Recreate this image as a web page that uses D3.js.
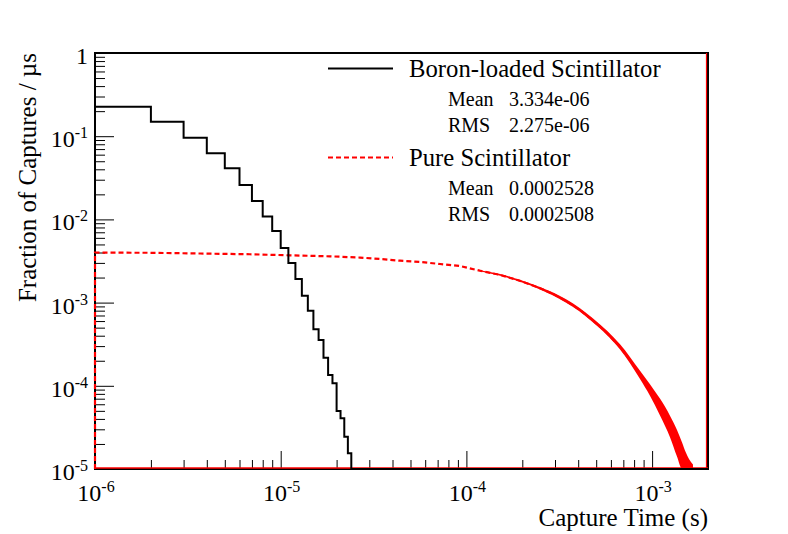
<!DOCTYPE html>
<html>
<head>
<meta charset="utf-8">
<script src="https://cdn.jsdelivr.net/npm/d3@7"></script>
<style>
  body { margin: 0; background: #fff; }
  svg { font-family: "Liberation Serif", "Times New Roman", serif; }
</style>
</head>
<body>
<div id="chart"></div>
<script>
// axis ticks
const xMajorTicks = [1e-6, 1e-5, 1e-4, 1e-3];
const xTickExp = ["-6", "-5", "-4", "-3"];
const yMajorTicks = [1e-5, 1e-4, 1e-3, 1e-2, 1e-1, 1];
const yTickExp = ["-5", "-4", "-3", "-2", "-1", ""];

// boron-loaded scintillator: 1 us bins, left edges in us
const boronEdgesUs = [1, 2, 3, 4, 5, 6, 7, 8, 9, 10, 11, 12, 13, 14, 15, 16, 17, 18, 19, 20, 21, 22, 23, 24];
const boronValues = [0.226, 0.149, 0.0959, 0.0623, 0.0411, 0.0259, 0.0166, 0.0108, 0.00726, 0.00453,
  0.00299, 0.00192, 0.00121, 0.0008, 0.000478, 0.000355, 0.000218, 0.000135, 0.000107, 4.98e-5,
  4.07e-5, 2.44e-5, 1.55e-5];

// pure scintillator; spread = half width of noise band (decades)
const pureTime = [1.0e-6, 1.36e-6, 1.98e-6, 3.68e-6, 6.83e-6, 1.12e-5, 1.84e-5, 2.67e-5, 3.43e-5, 4.39e-5,
  5.63e-5, 7.21e-5, 9.24e-5, 1.18e-4, 1.52e-4, 1.94e-4, 2.49e-4, 2.93e-4, 3.48e-4, 4.09e-4,
  4.81e-4, 5.72e-4, 6.72e-4, 7.60e-4, 8.61e-4, 9.74e-4, 1.10e-3, 1.25e-3, 1.36e-3, 1.45e-3,
  1.52e-3, 1.58e-3, 1.66e-3];
const pureValues = [4.00e-3, 3.98e-3, 3.97e-3, 3.89e-3, 3.81e-3, 3.70e-3, 3.60e-3, 3.48e-3, 3.34e-3, 3.19e-3,
  3.08e-3, 2.91e-3, 2.75e-3, 2.42e-3, 2.15e-3, 1.83e-3, 1.49e-3, 1.27e-3, 1.03e-3, 8.15e-4,
  6.09e-4, 4.31e-4, 2.93e-4, 2.04e-4, 1.35e-4, 8.90e-5, 5.61e-5, 3.22e-5, 2.05e-5, 1.41e-5,
  1.09e-5, 1.0e-5, 9e-6];
const pureSpread = [0, 0, 0, 0, 0, 0, 0, 0, 0, 0,
  0, 0, 0, 0.006, 0.01, 0.012, 0.015, 0.018, 0.02, 0.022,
  0.025, 0.028, 0.032, 0.038, 0.05, 0.07, 0.1, 0.13, 0.16, 0.17,
  0.16, 0.12, 0.1];

// legend
const legendNames = ["Boron-loaded Scintillator", "Pure Scintillator"];
const legendMean = ["3.334e-06", "0.0002528"];
const legendRms = ["2.275e-06", "0.0002508"];

const width = 788, height = 534;
const svg = d3.select("#chart").append("svg")
  .attr("width", width).attr("height", height);

const x = d3.scaleLog().domain([1e-6, 2e-3]).range([95, 708]);
const y = d3.scaleLog().domain([1e-5, 1]).range([469, 53]).clamp(true);
const [x0, x1] = x.range();
const [y0, y1] = y.range();
const floor = y.domain()[0];
const isDecade = (v) => Math.abs(Math.log10(v) - Math.round(Math.log10(v))) < 1e-6;

// ticks
const yMinor = y.ticks().filter((v) => !isDecade(v));
const xMinor = x.ticks().filter((v) => !isDecade(v) && v < x.domain()[1]);

function tickAxis(axis, transform) {
  const g = svg.append("g").attr("transform", transform).call(axis);
  g.select(".domain").remove();
  g.selectAll("line").attr("stroke", "#000").attr("stroke-width", 1);
  return g;
}
tickAxis(d3.axisRight(y).tickValues(yMinor).tickSize(10).tickFormat(""), `translate(${x0},0)`);
tickAxis(d3.axisRight(y).tickValues(yMajorTicks).tickSize(19).tickFormat(""), `translate(${x0},0)`);
tickAxis(d3.axisTop(x).tickValues(xMinor).tickSize(9).tickFormat(""), `translate(0,${y0})`);
tickAxis(d3.axisTop(x).tickValues(xMajorTicks).tickSize(18).tickFormat(""), `translate(0,${y0})`);

// tick labels
yMajorTicks.forEach((v, i) => {
  const t = svg.append("text")
    .attr("x", 88).attr("y", y(v) + 11)
    .attr("text-anchor", "end").attr("font-size", 24);
  if (yTickExp[i] === "") {
    t.text("1");
  } else {
    t.append("tspan").text("10");
    t.append("tspan").attr("font-size", 16).attr("dy", -9).text(yTickExp[i]);
  }
});
xMajorTicks.forEach((v, i) => {
  const t = svg.append("text")
    .attr("x", x(v) + 1).attr("y", 501)
    .attr("text-anchor", "middle").attr("font-size", 24);
  t.append("tspan").text("10");
  t.append("tspan").attr("font-size", 16).attr("dy", -9).text(xTickExp[i]);
});

// axis titles
svg.append("text")
  .attr("x", x1).attr("y", 526)
  .attr("text-anchor", "end").attr("font-size", 25)
  .text("Capture Time (s)");
svg.append("text")
  .attr("transform", `translate(36,${y1}) rotate(-90)`)
  .attr("text-anchor", "end").attr("font-size", 25)
  .text("Fraction of Captures / \u00b5s");

// frame
svg.append("rect")
  .attr("x", x0).attr("y", y1)
  .attr("width", x1 - x0).attr("height", y0 - y1)
  .attr("fill", "none").attr("stroke", "#000").attr("stroke-width", 2);

// pure scintillator
const pure = pureTime.map((t, i) => ({ t, v: pureValues[i], s: pureSpread[i] }));
const band = pure.filter((d) => d.s > 0);

svg.append("line")
  .attr("x1", x0).attr("x2", x1)
  .attr("y1", y0 - 1).attr("y2", y0 - 1)
  .attr("stroke", "#f00").attr("stroke-width", 1.5);
svg.append("line")
  .attr("x1", x1 - 1.5).attr("x2", x1 - 1.5)
  .attr("y1", y1).attr("y2", y0)
  .attr("stroke", "#f00").attr("stroke-width", 1.2);

svg.append("path")
  .datum(band)
  .attr("fill", "#f00")
  .attr("d", d3.area()
    .x((d) => x(d.t))
    .y0((d) => y(d.v / Math.pow(10, d.s)))
    .y1((d) => y(d.v * Math.pow(10, d.s)))
    .curve(d3.curveMonotoneX));

const purePts = [[x.domain()[0], floor], ...pure.map((d) => [d.t, d.v]), [x.domain()[1], floor]];
svg.append("path")
  .datum(purePts)
  .attr("fill", "none")
  .attr("stroke", "#f00")
  .attr("stroke-width", 2.2)
  .attr("stroke-dasharray", "5,3")
  .attr("d", d3.line().x((d) => x(d[0])).y((d) => y(d[1])));

// boron-loaded scintillator histogram
const boronPts = boronValues.map((v, i) => [boronEdgesUs[i] * 1e-6, v]);
boronPts.push([boronEdgesUs[boronEdgesUs.length - 1] * 1e-6, floor]);
boronPts.push([x.domain()[1], floor]);
svg.append("path")
  .datum(boronPts)
  .attr("fill", "none")
  .attr("stroke", "#000")
  .attr("stroke-width", 2)
  .attr("d", d3.line().x((d) => x(d[0])).y((d) => y(d[1])).curve(d3.curveStepAfter));

// legend
const legendRows = [68.5, 157.5];
const legendStyle = [
  { stroke: "#000", dash: null },
  { stroke: "#f00", dash: "5,3" },
];
legendNames.forEach((name, i) => {
  const ly = legendRows[i];
  svg.append("line")
    .attr("x1", 328).attr("x2", 393)
    .attr("y1", ly).attr("y2", ly)
    .attr("stroke", legendStyle[i].stroke)
    .attr("stroke-width", 2)
    .attr("stroke-dasharray", legendStyle[i].dash);
  svg.append("text")
    .attr("x", 409).attr("y", ly + 8.5)
    .attr("font-size", 24.7)
    .text(name);
  [["Mean", legendMean[i]], ["RMS", legendRms[i]]].forEach(([k, val], j) => {
    const by = ly + 37 + j * 26.5;
    svg.append("text").attr("x", 448).attr("y", by).attr("font-size", 20).text(k);
    svg.append("text").attr("x", 509).attr("y", by).attr("font-size", 20).text(val);
  });
});
</script>
</body>
</html>
